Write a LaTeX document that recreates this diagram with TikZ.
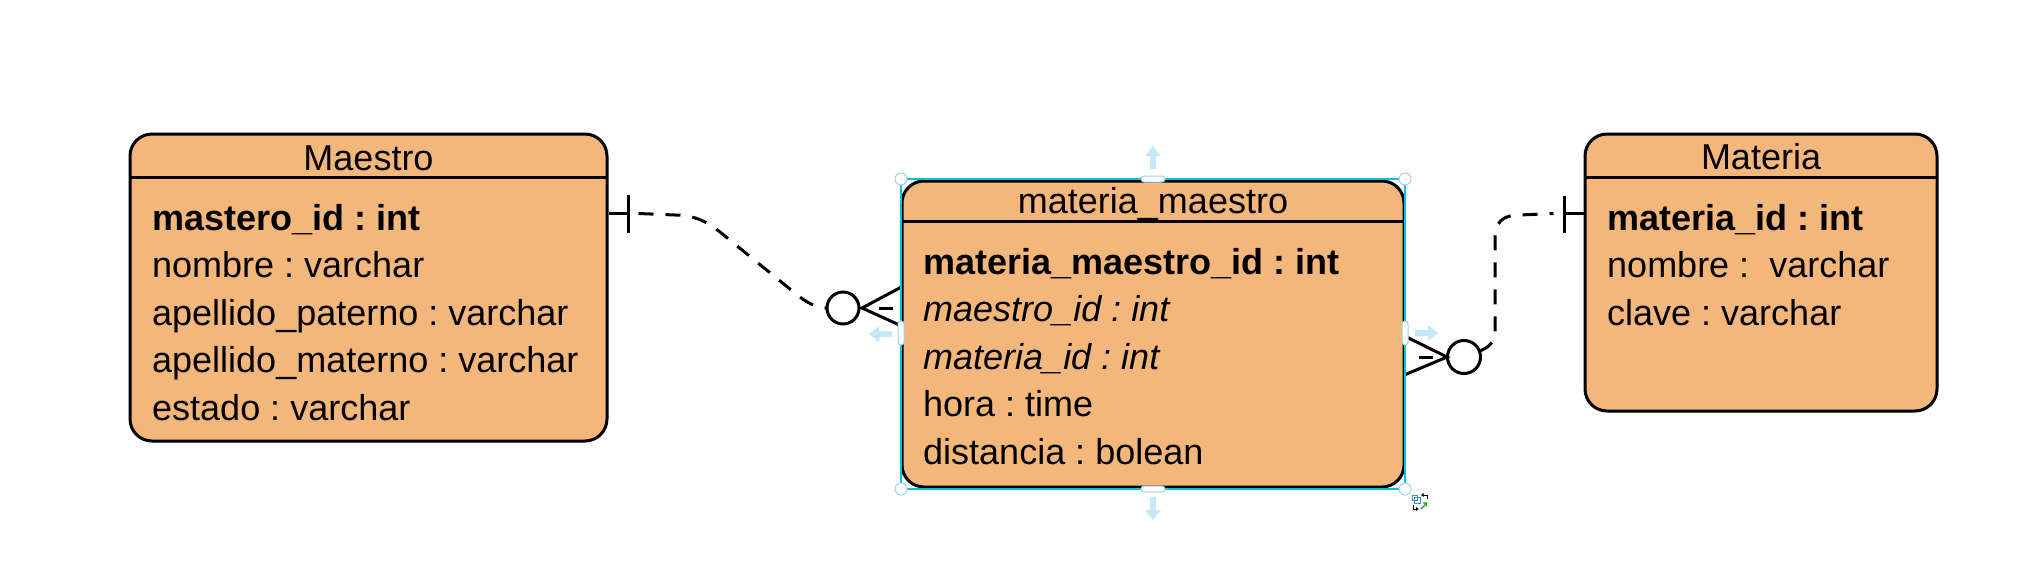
\documentclass[tikz,border=0pt]{standalone}
\usepackage{fontspec}
\setmainfont{Liberation Sans}
\usetikzlibrary{calc}
\frenchspacing
\newcommand{\undsc}{\symbol{95}}
\newcommand{\erfont}{\fontsize{36}{43}\selectfont}
\definecolor{erfill}{HTML}{F4B77B}
\definecolor{selcyan}{HTML}{00C4DE}
\definecolor{handleblue}{HTML}{A8CBEF}
\definecolor{arrowblue}{HTML}{C6E7F8}
\definecolor{iconblue}{HTML}{3A8FD0}
\definecolor{icongreen}{HTML}{3DB53D}
\begin{document}
\begin{tikzpicture}[x=1pt,y=-1pt,
  entity/.style={draw=black, line width=3pt, fill=erfill, rounded corners=22pt, inner sep=0pt},
  divider/.style={line width=3pt},
  attr/.style={anchor=base west, inner sep=0pt, font=\erfont},
  attrb/.style={anchor=base west, inner sep=0pt, font=\erfont\bfseries},
  attri/.style={anchor=base west, inner sep=0pt, font=\erfont\itshape},
  ttl/.style={anchor=base, inner sep=0pt, font=\erfont},
  rel/.style={line width=3pt, dash pattern=on 15pt off 12pt},
  ermark/.style={line width=3pt},
  selbox/.style={draw=selcyan, line width=1.8pt},
  handle/.style={draw=handleblue, fill=white, line width=1pt},
  handarrow/.style={fill=arrowblue}
]
\useasboundingbox (0,0) rectangle (2029,584);

% ---------- entities ----------
\node[entity, minimum width=477pt, minimum height=307pt] (maestro) at (368.5,287.5) {};
\node[entity, minimum width=352pt, minimum height=277pt] (materia) at (1761,272.5) {};
\node[entity, minimum width=502pt, minimum height=306pt] (mm) at (1153,334) {};

% header dividers
\draw[divider] (130,177) -- (607,177);
\draw[divider] (1585,177) -- (1937,177);
\draw[divider] (902,221) -- (1404,221);

% ---------- texts ----------
\node[ttl] (t-maestro) at (368.5,170) {Maestro};
\node[attrb] (a1) at (152,230) {mastero\undsc id : int};
\node[attr]  (a2) at (152,277.5) {nombre : varchar};
\node[attr]  (a3) at (152,325) {apellido\undsc paterno : varchar};
\node[attr]  (a4) at (152,372.5) {apellido\undsc materno : varchar};
\node[attr]  (a5) at (152,420) {estado : varchar};

\node[ttl] (t-materia) at (1761,169) {Materia};
\node[attrb] (b1) at (1607,230) {materia\undsc id : int};
\node[attr]  (b2) at (1607,277.5) {nombre : \ varchar};
\node[attr]  (b3) at (1607,325) {clave : varchar};

\node[ttl] (t-mm) at (1153,213) {materia\undsc maestro};
\node[attrb] (c1) at (923,274) {materia\undsc maestro\undsc id : int};
\node[attri] (c2) at (923,321.5) {maestro\undsc id : int};
\node[attri] (c3) at (923,369) {materia\undsc id : int};
\node[attr]  (c4) at (923,416.5) {hora : time};
\node[attr]  (c5) at (923,464) {distancia : bolean};

% ---------- connector coordinates ----------
\coordinate (mae-out) at ($(maestro.north east)+(0,81)$);
\coordinate (mae-bar) at ($(mae-out)+(20,0)$);
\coordinate (mae-dash) at ($(mae-out)+(30,0)$);
\coordinate (mmL-c) at (843,308);
\coordinate (mmL-apex) at (862,308);
\coordinate (mmL-up) at ($(mm.north west)+(0,108)$);
\coordinate (mmL-dn) at ($(mm.north west)+(0,146)$);

\coordinate (mat-in) at ($(materia.north west)+(0,81)$);
\coordinate (mat-bar) at ($(mat-in)+(-19,0)$);
\coordinate (mmR-c) at (1464,357);
\coordinate (mmR-apex) at (1447,357);
\coordinate (mmR-up) at ($(mm.north east)+(0,157)$);
\coordinate (mmR-dn) at ($(mm.north east)+(0,195)$);

% ---------- left relation: Maestro (one) -- materia_maestro (zero or many) ----------
\draw[ermark] (mae-out) -- (mae-bar);
\draw[ermark] ($(mae-bar)+(0,-19)$) -- ($(mae-bar)+(0,19)$);
\draw[rel] (mae-dash) -- (675,215) .. controls (695,215) and (708,222.4) .. (720,232)
  -- (785,285) .. controls (800,297.5) and (812,308) .. ($(mmL-c)+(-16,0)$);
\draw[ermark] (mmL-c) circle[radius=16pt];
\draw[ermark] (mmL-up) -- (mmL-apex) -- (mmL-dn);
\draw[ermark] (879,308) -- (893,308);

% ---------- right relation: Materia (one) -- materia_maestro (zero or many) ----------
\draw[ermark] (mat-in) -- (mat-bar);
\draw[ermark] ($(mat-bar)+(0,-18)$) -- ($(mat-bar)+(0,19)$);
\draw[rel] ($(mmR-c)+(15.5,-6)$) .. controls (1488,348) and (1495,342) .. (1495,332)
  -- (1495,240) .. controls (1495,222) and (1502,215) .. (1520,215) -- ($(mat-bar)+(-11,0)$);
\draw[ermark] (mmR-c) circle[radius=16.5pt];
\draw[ermark] (mmR-up) -- (mmR-apex) -- (mmR-dn);
\draw[ermark] (1419,357) -- (1433,357);

% ---------- selection overlay on materia_maestro ----------
\draw[selbox] (901,179) rectangle (1405,489);
\foreach \p in {(901,179),(1405,179),(901,489),(1405,489)}
  \draw[handle] \p circle[radius=6pt];
\draw[handle, rounded corners=3pt] (1141,176) rectangle (1165,182);
\draw[handle, rounded corners=3pt] (1141,486) rectangle (1165,492);
\draw[handle, rounded corners=3pt] (898,321) rectangle (904,345);
\draw[handle, rounded corners=3pt] (1402,321) rectangle (1408,345);
% direction arrows
\fill[handarrow] (1153,146) -- (1161,156) -- (1156,156) -- (1156,169) -- (1150,169) -- (1150,156) -- (1145,156) -- cycle;
\fill[handarrow] (1153,520) -- (1161,510) -- (1156,510) -- (1156,497) -- (1150,497) -- (1150,510) -- (1145,510) -- cycle;
\fill[handarrow] (869,334) -- (879,326) -- (879,331) -- (892,331) -- (892,337) -- (879,337) -- (879,342) -- cycle;
\fill[handarrow] (1438,333) -- (1428,325) -- (1428,330) -- (1415,330) -- (1415,336) -- (1428,336) -- (1428,341) -- cycle;
% small duplicate icon
\draw[iconblue, line width=0.9pt] (1412,495) rectangle (1417.5,500.5);
\draw[iconblue, line width=0.9pt] (1414.5,497.5) rectangle (1420,503);
\draw[black, line width=0.9pt] (1427,499) -- (1427,495) -- (1422,495);
\fill[black] (1421,495) -- (1423.5,493) -- (1423.5,497) -- cycle;
\draw[black, line width=0.9pt] (1413,505) -- (1413,509) -- (1417,509);
\fill[black] (1418.5,509) -- (1416,507) -- (1416,511) -- cycle;
\draw[icongreen, line width=1.6pt] (1421,509) -- (1426,504);
\fill[icongreen] (1427,502) -- (1427,507) -- (1422.5,502.5) -- cycle;
\end{tikzpicture}
\end{document}
